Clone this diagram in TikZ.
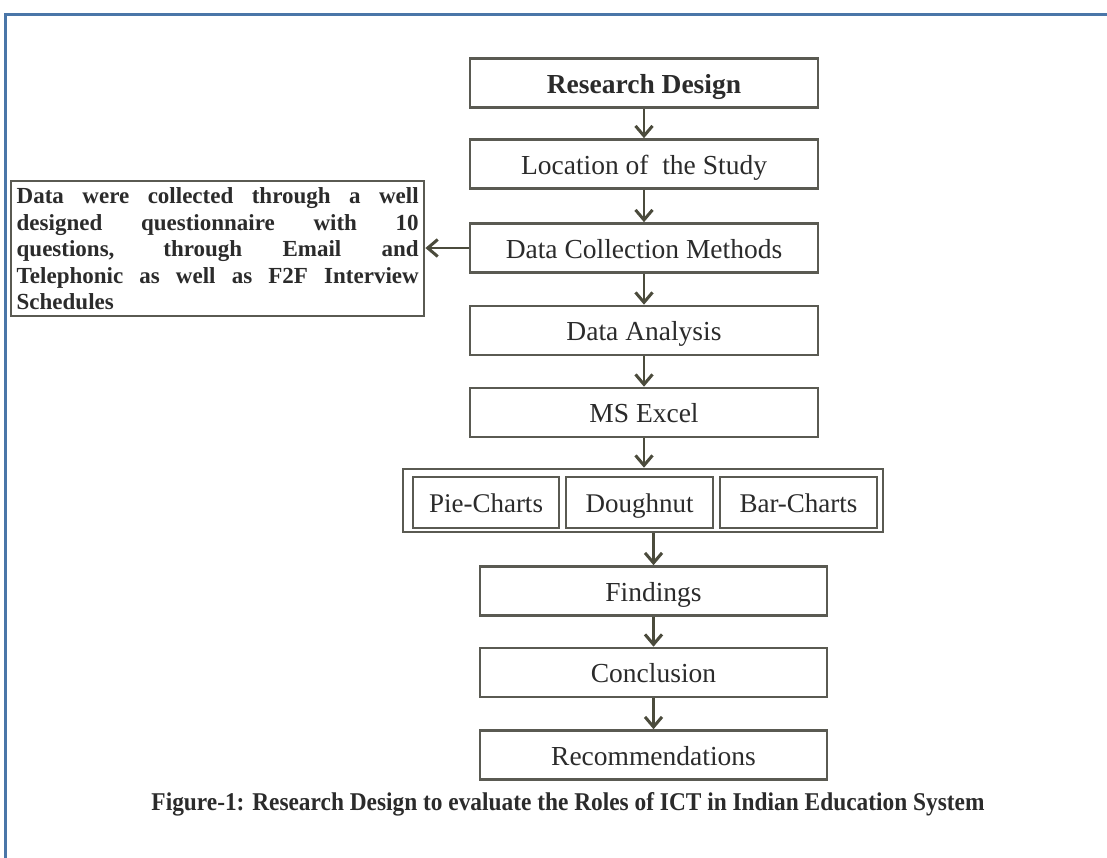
\documentclass[tikz,border=0pt]{standalone}
\usepackage{fontspec}
\setmainfont{Liberation Serif}
\usetikzlibrary{arrows.meta,positioning}
\definecolor{frameblue}{HTML}{4A76A8}
\definecolor{boxline}{HTML}{5A5A52}
\definecolor{arrowcol}{HTML}{4B4B3C}
\definecolor{txt}{HTML}{2B2B2B}
\tikzset{
  stepbox/.style={draw=boxline, line width=2.6pt, fill=white, minimum width=348pt, minimum height=49pt, inner sep=0pt, text=txt, text height=20pt, text depth=0pt, font=\fontsize{27.5}{30}\selectfont},
  chartbox/.style={draw=boxline, line width=2.4pt, fill=white, minimum height=51pt, inner sep=0pt, text=txt, text height=20pt, text depth=0pt, font=\fontsize{27}{30}\selectfont},
  flow/.style={draw=arrowcol, line width=2.8pt, -{Straight Barb[length=10pt,width=17pt,line width=3pt]}},
}
\begin{document}
\begin{tikzpicture}[x=1pt,y=-1pt]
\useasboundingbox (0,0) rectangle (1107,857);
\fill[white] (0,0) rectangle (1107,857);
% frame
\draw[frameblue, line width=3pt] (5,860) -- (5,14) -- (1110,14);
% main column
\node[stepbox, font=\fontsize{27.5}{30}\selectfont\bfseries] (rd) at (644,83) {Research Design};
\node[stepbox] (loc) at (644,164) {Location of \ the Study};
\node[stepbox] (dcm) at (644,248) {Data Collection Methods};
\node[stepbox] (da) at (644,330.5) {Data Analysis};
\node[stepbox] (ms) at (644,412.5) {MS Excel};
\node[draw=boxline, line width=2.6pt, minimum width=480pt, minimum height=63pt, inner sep=0pt] (charts) at (643,500.5) {};
\node[chartbox, minimum width=146pt] (pie) at (486,502.5) {Pie-Charts};
\node[chartbox, minimum width=147pt] (dough) at (639.5,502.5) {Doughnut};
\node[chartbox, minimum width=157pt] (bar) at (798.5,502.5) {Bar-Charts};
\node[stepbox, minimum width=347pt] (fin) at (653.5,591) {Findings};
\node[stepbox, minimum width=347pt] (con) at (653.5,672.5) {Conclusion};
\node[stepbox, minimum width=347pt] (rec) at (653.5,755) {Recommendations};
% left note
\node[draw=boxline, line width=2.4pt, fill=white, minimum width=413pt, minimum height=135pt, inner sep=0pt, text=txt, anchor=north west] (note) at (10,180) {%
  \parbox{402pt}{\fontsize{23}{26.5}\selectfont\bfseries\hyphenpenalty=10000
  Data were collected through a well\linebreak
  designed questionnaire with 10\linebreak
  questions, through Email and\linebreak
  Telephonic as well as F2F Interview\linebreak
  Schedules}};
% connectors
\draw[flow] (rd) -- (loc);
\draw[flow] (loc) -- (dcm);
\draw[flow] (dcm) -- (da);
\draw[flow] (da) -- (ms);
\draw[flow] (ms.south) -- (charts.north -| ms.south);
\draw[flow] (charts.south -| fin.north) -- (fin.north);
\draw[flow] (fin) -- (con);
\draw[flow] (con) -- (rec);
\draw[flow] (dcm.west) -- (note.east |- dcm.west);
% caption
\node[text=txt, inner sep=0pt] (cap) at (568,804) {\resizebox{833pt}{18pt}{\bfseries Figure-1: Research Design to evaluate the Roles of ICT in Indian Education System}};
\end{tikzpicture}
\end{document}
